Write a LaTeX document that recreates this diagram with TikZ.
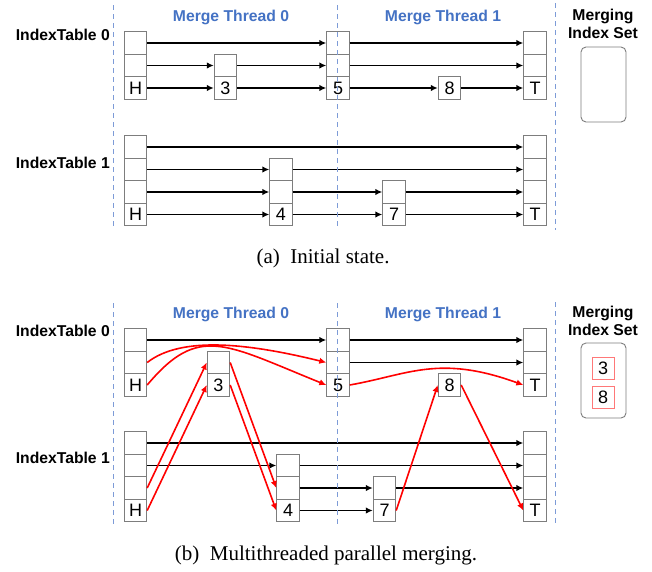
\documentclass[tikz,border=0pt]{standalone}
\usepackage{fontspec}
\setmainfont{Liberation Serif}
\newfontfamily\arialf{Liberation Sans}
\usetikzlibrary{arrows.meta}
\definecolor{cellgray}{RGB}{125,125,125}
\definecolor{dashblue}{RGB}{125,155,215}
\definecolor{threadblue}{RGB}{68,114,196}
\definecolor{setred}{RGB}{255,120,120}
\tikzset{
 cell/.style={draw=cellgray, line width=0.9pt, minimum width=22.5pt, minimum height=22.5pt, inner sep=0pt, font=\arialf\fontsize{18}{18}\selectfont},
 arr/.style={-{Latex[length=7pt,width=6.5pt]}, line width=1.6pt, black},
 rarr/.style={arr, red},
 sepline/.style={dashblue, dash pattern=on 5pt off 4pt, line width=1pt},
 lbl/.style={font=\arialf\bfseries\fontsize{15.7}{18}\selectfont, inner sep=0pt, anchor=base},
 lblr/.style={lbl, anchor=base east},
 thr/.style={lbl, text=threadblue},
 capt/.style={font=\fontsize{21}{24}\selectfont, inner sep=0pt, anchor=base},
 setbox/.style={draw=cellgray, line width=0.9pt, rounded corners=5pt, minimum width=45pt, minimum height=75pt, inner sep=0pt},
 setcell/.style={draw=setred, line width=0.8pt, minimum width=22pt, minimum height=22pt, inner sep=0pt, font=\arialf\fontsize{18}{18}\selectfont},
}
\newcommand{\tower}[5]{%
 \node[cell] (#1-1) at (#2,#3) {#5};
 \ifnum#4>1 \foreach \k in {2,...,#4}{\node[cell] (#1-\k) at (#2,{#3-(\k-1)*22.5}) {};}\fi}
\begin{document}
\begin{tikzpicture}[x=1pt,y=-1pt]
\useasboundingbox (0,0) rectangle (652,571);
\fill[white] (0,0) rectangle (652,571);

% ---------------- panel (a) ----------------
\node[lblr] (a-it0) at (110,40) {IndexTable 0};
\node[lblr] (a-it1) at (110,168) {IndexTable 1};
\node[thr] (a-mt0) at (231,21.5) {Merge Thread 0};
\node[thr] (a-mt1) at (443,21.5) {Merge Thread 1};
\node[lbl] (a-ms1) at (603,20) {Merging};
\node[lbl] (a-ms2) at (603,38.5) {Index Set};
\node[setbox] (a-set) at (603.5,84.5) {};

\tower{aH0}{135.5}{88}{3}{H}
\tower{a30}{225.5}{88}{2}{3}
\tower{a50}{338}{88}{3}{5}
\tower{a80}{449.5}{88}{1}{8}
\tower{aT0}{535}{88}{3}{T}
\tower{aH1}{135.5}{214.5}{4}{H}
\tower{a41}{281}{214.5}{3}{4}
\tower{a71}{394}{214.5}{2}{7}
\tower{aT1}{535}{214.5}{4}{T}

\draw[arr] (aH0-3.east) -- (a50-3.west);
\draw[arr] (a50-3.east) -- (aT0-3.west);
\draw[arr] (aH0-2.east) -- (a30-2.west);
\draw[arr] (a30-2.east) -- (a50-2.west);
\draw[arr] (a50-2.east) -- (aT0-2.west);
\draw[arr] (aH0-1.east) -- (a30-1.west);
\draw[arr] (a30-1.east) -- (a50-1.west);
\draw[arr] (a50-1.east) -- (a80-1.west);
\draw[arr] (a80-1.east) -- (aT0-1.west);

\draw[arr] (aH1-4.east) -- (aT1-4.west);
\draw[arr] (aH1-3.east) -- (a41-3.west);
\draw[arr] (a41-3.east) -- (aT1-3.west);
\draw[arr] (aH1-2.east) -- (a41-2.west);
\draw[arr] (a41-2.east) -- (a71-2.west);
\draw[arr] (a71-2.east) -- (aT1-2.west);
\draw[arr] (aH1-1.east) -- (a41-1.west);
\draw[arr] (a41-1.east) -- (a71-1.west);
\draw[arr] (a71-1.east) -- (aT1-1.west);

\draw[sepline] (113,5) -- (113,229);
\draw[sepline] (337,5) -- (337,229);
\draw[sepline] (555,3) -- (555,230);

\node[capt] (capa) at (323,263) {(a)\hspace{0.5em}Initial state.};

% ---------------- panel (b) ----------------
\node[lblr] (b-it0) at (110,336) {IndexTable 0};
\node[lblr] (b-it1) at (110,463) {IndexTable 1};
\node[thr] (b-mt0) at (231,318.5) {Merge Thread 0};
\node[thr] (b-mt1) at (443,318.5) {Merge Thread 1};
\node[lbl] (b-ms1) at (603,317) {Merging};
\node[lbl] (b-ms2) at (603,335) {Index Set};
\node[setbox] (b-set) at (603.5,380.5) {};
\node[setcell] (b-s3) at (603,368) {3};
\node[setcell] (b-s8) at (603,397) {8};

\tower{bH0}{135.5}{385}{3}{H}
\tower{b30}{218.5}{385}{2}{3}
\tower{b50}{338}{385}{3}{5}
\tower{b80}{449.5}{385}{1}{8}
\tower{bT0}{535}{385}{3}{T}
\tower{bH1}{135.5}{510.5}{4}{H}
\tower{b41}{288}{510.5}{3}{4}
\tower{b71}{384.5}{510.5}{2}{7}
\tower{bT1}{535}{510.5}{4}{T}

\draw[arr] (bH0-3.east) -- (b50-3.west);
\draw[arr] (b50-3.east) -- (bT0-3.west);
\draw[arr] (b50-2.east) -- (bT0-2.west);

\draw[arr] (bH1-4.east) -- (bT1-4.west);
\draw[arr] (bH1-3.east) -- (b41-3.west);
\draw[arr] (b41-3.east) -- (bT1-3.west);
\draw[arr] (b41-2.east) -- (b71-2.west);
\draw[arr] (b71-2.east) -- (bT1-2.west);
\draw[arr] (b41-1.east) -- (b71-1.west);

\draw[rarr] (bH0-2.east) .. controls +(34.5,-27) and +(-77.3,-19) .. (b50-2.west);
\draw[rarr] (bH0-1.east) .. controls +(51.4,-61.3) and +(-102,-41.2) .. (b50-1.west);
\draw[rarr] (b50-1.east) .. controls +(59,-10.4) and +(-84.6,-30.8) .. (bT0-1.west);
\draw[rarr] (bH1-2.east) -- (b30-2.west);
\draw[rarr] (bH1-1.east) -- (b30-1.west);
\draw[rarr] (b30-2.east) -- (b41-2.west);
\draw[rarr] (b30-1.east) -- (b41-1.west);
\draw[rarr] (b71-1.east) -- (b80-1.west);
\draw[rarr] (b80-1.east) -- (bT1-1.west);

\draw[sepline] (113,303) -- (113,524);
\draw[sepline] (337,303) -- (337,524);
\draw[sepline] (555,302) -- (555,524);

\node[capt] (capb) at (326,560) {(b)\hspace{0.5em}Multithreaded parallel merging.};
\end{tikzpicture}
\end{document}
